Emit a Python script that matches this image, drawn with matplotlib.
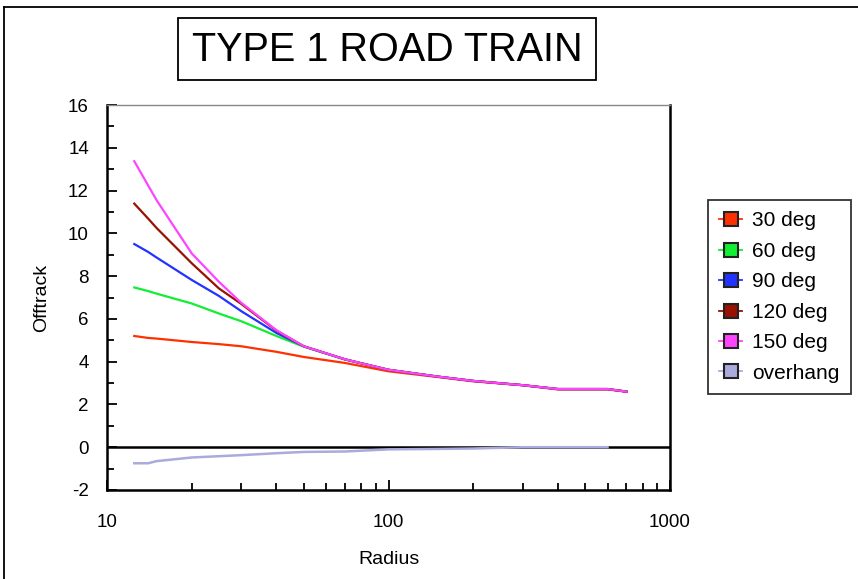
import matplotlib
matplotlib.use("Agg")
import matplotlib.pyplot as plt
from matplotlib.lines import Line2D
from matplotlib.patches import Rectangle
from matplotlib.ticker import FixedLocator, NullFormatter, FixedFormatter

plt.rcParams['font.family'] = ['Liberation Sans', 'DejaVu Sans']
plt.rcParams['axes.unicode_minus'] = False

radius = [12.5, 14, 15, 20, 25, 30, 40, 50, 70, 100, 150, 200, 300, 400, 600, 700]
deg30 = [5.2, 5.11, 5.08, 4.92, 4.82, 4.72, 4.46, 4.22, 3.94, 3.55, 3.28, 3.08, 2.9, 2.7, 2.7, 2.6]
deg60 = [7.47, 7.3, 7.18, 6.72, 6.25, 5.89, 5.2, 4.7, 4.1, 3.62, 3.3, 3.1, 2.9, 2.72, 2.72, 2.6]
deg90 = [9.5, 9.13, 8.87, 7.82, 7.07, 6.36, 5.34, 4.72, 4.11, 3.62, 3.3, 3.1, 2.9, 2.72, 2.72, 2.6]
deg120 = [11.39, 10.69, 10.25, 8.6, 7.42, 6.7, 5.45, 4.72, 4.11, 3.62, 3.3, 3.1, 2.9, 2.72, 2.72, 2.6]
deg150 = [13.37, 12.24, 11.55, 9.06, 7.73, 6.75, 5.47, 4.72, 4.11, 3.62, 3.3, 3.1, 2.9, 2.72, 2.72, 2.6]
overhang_r = [12.5, 14, 15, 20, 25, 30, 40, 50, 70, 100, 150, 200, 300, 400, 600]
overhang = [-0.75, -0.75, -0.65, -0.48, -0.42, -0.37, -0.28, -0.22, -0.2, -0.1, -0.08, -0.06, 0.0, 0.0, 0.0]

labels = ['30 deg', '60 deg', '90 deg', '120 deg', '150 deg', 'overhang']
colors = ['#ff3000', '#11ee33', '#2233ff', '#991100', '#ff44ff', '#aaaadd']

fig = plt.figure(figsize=(8.58, 5.79), dpi=100)
ax = fig.add_axes([107/858, (579-490)/579, (670-107)/858, (490-105)/579])

# zero line
ax.axhline(0, color='black', lw=1.8, zorder=1)

series = [deg30, deg60, deg90, deg120, deg150]
for ys, c in zip(series, colors[:5]):
    ax.plot(radius, ys, color=c, lw=1.6, zorder=3)
ax.plot(overhang_r, overhang, color=colors[5], lw=1.8, zorder=2)

ax.set_xscale('log')
ax.set_xlim(10, 1000)
ax.set_ylim(-2, 16)
ax.xaxis.set_major_locator(FixedLocator([10, 100, 1000]))
ax.xaxis.set_major_formatter(FixedFormatter(['10', '100', '1000']))
minors = [m * d for d in (10, 100) for m in range(2, 10)]
ax.xaxis.set_minor_locator(FixedLocator(minors))
ax.xaxis.set_minor_formatter(NullFormatter())
ax.yaxis.set_major_locator(FixedLocator(list(range(-2, 17, 2))))
ax.yaxis.set_minor_locator(FixedLocator(list(range(-1, 16, 2))))

ax.tick_params(axis='both', which='both', direction='in', top=False, right=False, width=1.3)
ax.tick_params(axis='both', which='major', length=7, labelsize=13.5)
ax.tick_params(axis='both', which='minor', length=5)
ax.tick_params(axis='x', which='major', pad=17)
ax.tick_params(axis='y', which='major', pad=13)

for s in ['left', 'bottom', 'right']:
    ax.spines[s].set_linewidth(1.8)
    ax.spines[s].set_color('black')
ax.spines['top'].set_linewidth(1.0)
ax.spines['top'].set_color('#888888')

ax.set_xlabel('Radius', fontsize=14, labelpad=15)
ax.set_ylabel('Offtrack', fontsize=14, labelpad=13)

# title box
fig.add_artist(Rectangle((178/858, 1 - 80/579), (596-178)/858, (80-18)/579,
                         transform=fig.transFigure, facecolor='white',
                         edgecolor='black', lw=1.3))
fig.text((178 + 596) / 2 / 858, 1 - 50 / 579, 'TYPE 1 ROAD TRAIN',
         family=['Liberation Sans Narrow', 'Liberation Sans', 'DejaVu Sans'],
         fontsize=28.5, ha='center', va='center')

# legend
handles = [Line2D([0], [0], color=c, lw=1.3, marker='s', markersize=10,
                  markerfacecolor=c, markeredgecolor='#222222', markeredgewidth=1.5)
           for c in colors]
leg = fig.legend(handles, labels, loc='upper left',
                 bbox_to_anchor=(708/858, 1 - 200/579), fontsize=15,
                 handlelength=1.1, handletextpad=0.45, labelspacing=0.55,
                 borderpad=0.55, borderaxespad=0, frameon=True, fancybox=False)
leg.get_frame().set_edgecolor('black')
leg.get_frame().set_linewidth(1.3)

# outer frame lines (left and top)
fig.add_artist(Line2D([4/858, 4/858], [0, 1 - 7/579], color='black', lw=1.3))
fig.add_artist(Line2D([4/858, 1], [1 - 7/579, 1 - 7/579], color='black', lw=1.3))

fig.savefig('out.png', dpi=100)
